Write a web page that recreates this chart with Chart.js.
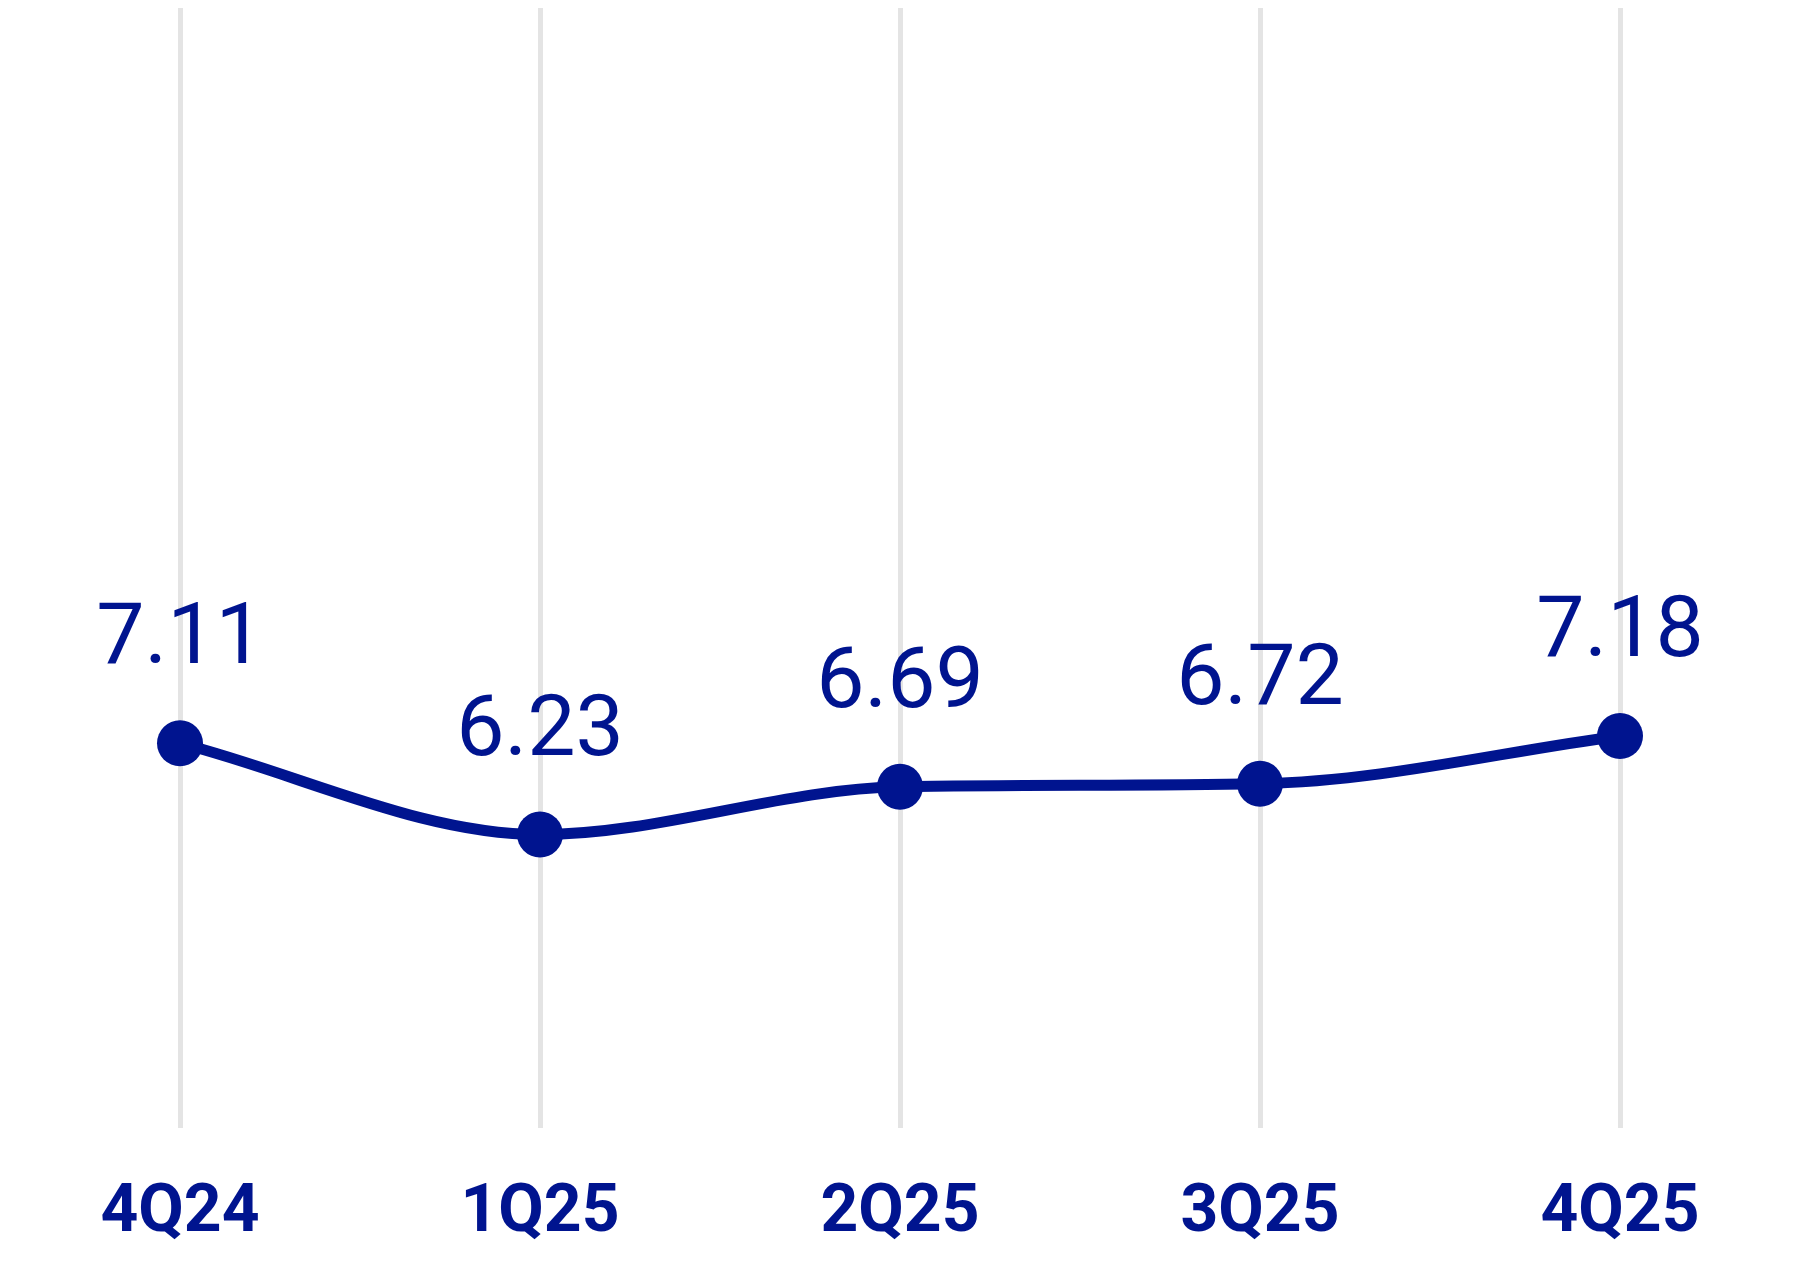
<!DOCTYPE html>
<html>
<head>
<meta charset="utf-8">
<script src="https://cdn.jsdelivr.net/npm/chart.js@4/dist/chart.umd.min.js"></script>
<style>
  html, body { margin: 0; padding: 0; background: #fff; }
  #wrap { width: 1800px; height: 1266px; }
</style>
</head>
<body>
<div id="wrap"><canvas id="myChart" width="1800" height="1266"></canvas></div>
<script>
const quarters = ['4Q24', '1Q25', '2Q25', '3Q25', '4Q25'];
const values = [7.11, 6.23, 6.69, 6.72, 7.18];

const navy = '#00148f';

// draws the number above each point
const valueLabels = {
  id: 'valueLabels',
  afterDatasetsDraw(chart) {
    const ctx = chart.ctx;
    const meta = chart.getDatasetMeta(0);
    ctx.save();
    ctx.fillStyle = navy;
    ctx.font = '400 86px Roboto';
    ctx.textAlign = 'center';
    ctx.textBaseline = 'alphabetic';
    meta.data.forEach((pt, i) => {
      ctx.fillText(values[i].toFixed(2), pt.x, pt.y - 80);
    });
    ctx.restore();
  },
};

const ctx = document.getElementById('myChart').getContext('2d');
window.myChart = new Chart(ctx, {
  type: 'line',
  data: {
    labels: quarters,
    datasets: [
      {
        label: 'value',
        data: values,
        borderColor: navy,
        backgroundColor: navy,
        borderWidth: 11,
        cubicInterpolationMode: 'monotone',
        pointRadius: 23,
        pointHoverRadius: 23,
        pointBackgroundColor: navy,
        pointBorderWidth: 0,
        clip: false,
      },
    ],
  },
  options: {
    responsive: false,
    animation: false,
    layout: { autoPadding: false, padding: { top: 8, bottom: 0, left: 0, right: 0 } },
    plugins: { legend: { display: false }, tooltip: { enabled: false } },
    scales: {
      x: {
        offset: true,
        grid: { color: '#e4e4e4', lineWidth: 5, drawTicks: false, offset: false },
        border: { display: false },
        ticks: {
          color: navy,
          padding: 47,
          font: { family: 'Roboto', size: 66, weight: 'bold' },
        },
        afterFit(scale) {
          scale.height = 138;
        },
      },
      y: {
        display: false,
        min: 3.4,
        max: 14.2,
      },
    },
  },
  plugins: [valueLabels],
});
</script>
</body>
</html>
